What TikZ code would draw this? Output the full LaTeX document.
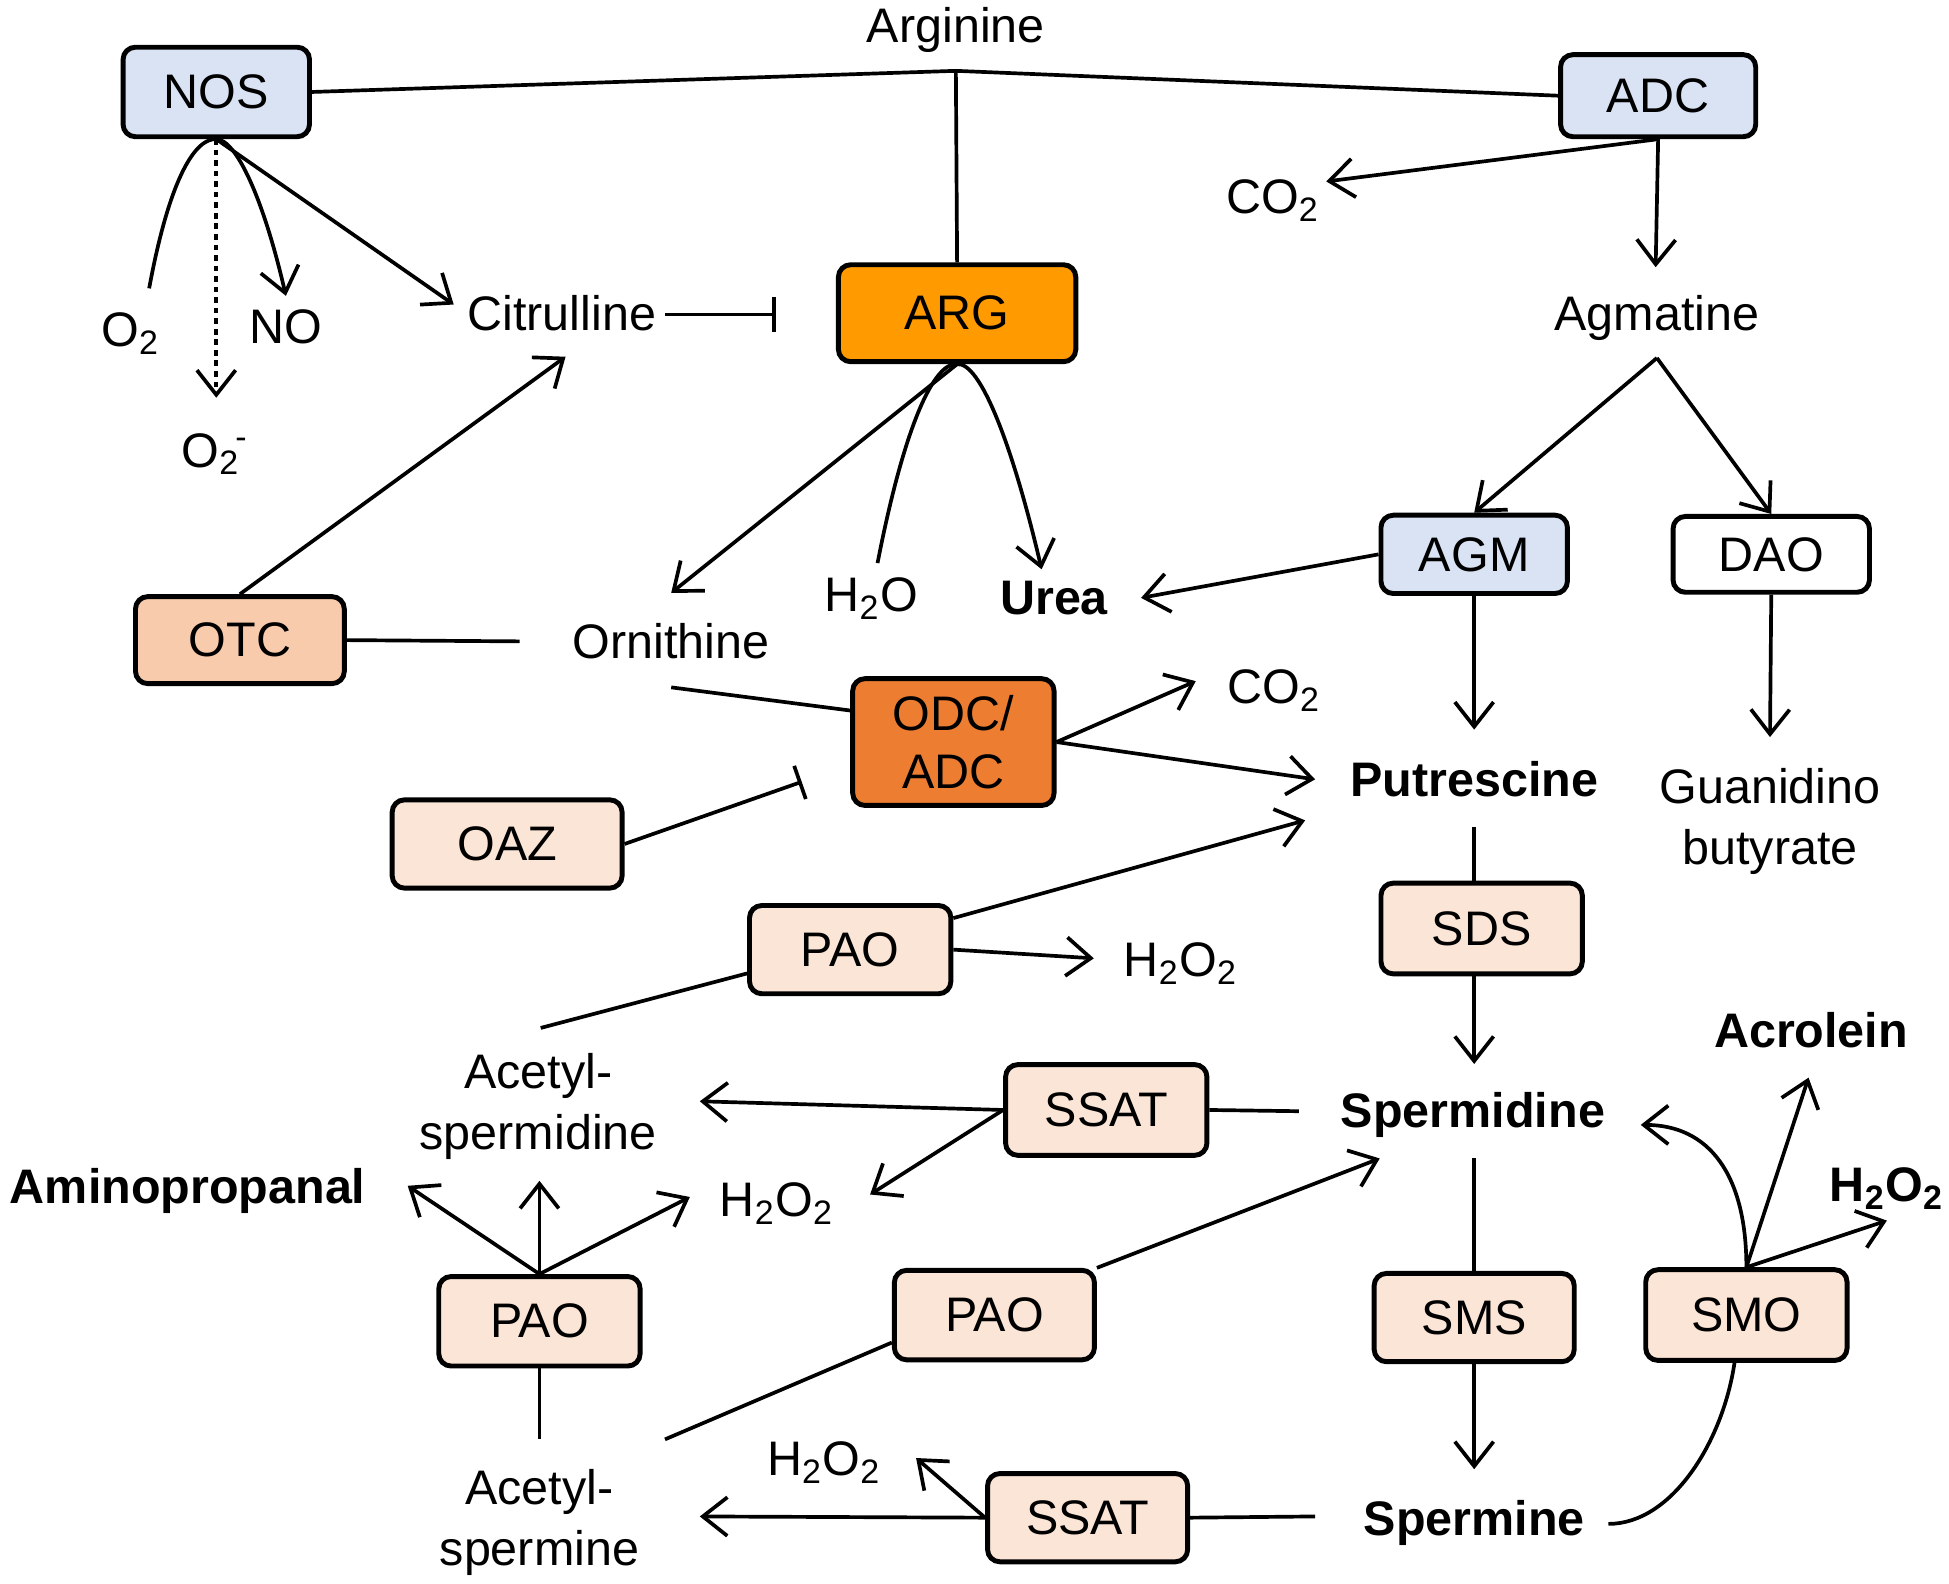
\documentclass[tikz,border=0pt]{standalone}
\usepackage{fontspec}
\setmainfont{Liberation Sans}
\usetikzlibrary{arrows.meta}
\definecolor{lblue}{HTML}{DAE3F3}
\definecolor{argc}{HTML}{FF9A00}
\definecolor{odcc}{HTML}{ED7D31}
\definecolor{otcc}{HTML}{F8CBAD}
\definecolor{pale}{HTML}{FBE5D6}
\def\pw{0.01243cm}
\tikzset{
  box/.style={draw, line width=1.4pt, rounded corners=3.5pt, inner sep=0pt, align=center, fill=pale},
  txt/.style={inner sep=0pt, anchor=base},
  txtc/.style={inner sep=0pt, align=center},
  ln/.style={line width=1.05pt},
  arr/.style={line width=1.05pt, -{Straight Barb[length=7pt,width=11pt,line width=1.05pt]}},
  inh/.style={line width=1.05pt, -{Bar[width=10pt,line width=1.05pt]}},
}
\begin{document}
\begin{tikzpicture}[x=0.01243cm,y=-0.01243cm, font=\fontsize{13.8}{16.8}\selectfont]
\useasboundingbox (0,0) rectangle (1568,1274);
% ---------- boxes
\node[box, fill=lblue, minimum width=150*\pw, minimum height=72*\pw] (nos) at (174,74) {NOS};
\node[box, fill=lblue, minimum width=157*\pw, minimum height=66*\pw] (adc) at (1334,77) {ADC};
\node[box, fill=argc, minimum width=191*\pw, minimum height=78*\pw] (arg) at (770,252) {ARG};
\node[box, fill=lblue, minimum width=150*\pw, minimum height=63*\pw] (agm) at (1186,446) {AGM};
\node[box, fill=white, minimum width=158*\pw, minimum height=61*\pw] (dao) at (1425,446) {DAO};
\node[box, fill=otcc, minimum width=168*\pw, minimum height=70*\pw] (otc) at (193,515) {OTC};
\node[box, fill=odcc, minimum width=162*\pw, minimum height=102*\pw, font=\fontsize{13.8}{16.5}\selectfont] (odc) at (767,597) {ODC/\\ADC};
\node[box, minimum width=185*\pw, minimum height=71*\pw] (oaz) at (408,679) {OAZ};
\node[box, minimum width=162*\pw, minimum height=71*\pw] (pao1) at (684,764) {PAO};
\node[box, minimum width=162*\pw, minimum height=73*\pw] (sds) at (1192,747) {SDS};
\node[box, minimum width=162*\pw, minimum height=73*\pw] (ssat1) at (890,893) {SSAT};
\node[box, minimum width=162*\pw, minimum height=72*\pw] (pao2) at (434,1063) {PAO};
\node[box, minimum width=161*\pw, minimum height=72*\pw] (pao3) at (800,1058) {PAO};
\node[box, minimum width=161*\pw, minimum height=71*\pw] (sms) at (1186,1060) {SMS};
\node[box, minimum width=162*\pw, minimum height=73*\pw] (smo) at (1405,1058) {SMO};
\node[box, minimum width=161*\pw, minimum height=71*\pw] (ssat2) at (875,1221) {SSAT};
% ---------- texts
\node[txt] (arginine) at (769,34) {Arginine};
\node[txt] (o2) at (105,279) {O\textsubscript{2}};
\node[txt] (no) at (230,276) {NO};
\node[txt] (o2m) at (173,376) {O\textsubscript{2}\kern-0.1em\textsuperscript{-}};
\node[txt] (citrulline) at (452,266) {Citrulline};
\node[txt] (h2o) at (701,492) {H\textsubscript{2}O};
\node[txt, font=\fontsize{13.8}{16.8}\selectfont\bfseries] (urea) at (848,494) {Urea};
\node[txt] (ornithine) at (540,530) {Ornithine};
\node[txt] (co2a) at (1024,172) {CO\textsubscript{2}};
\node[txt] (agmatine) at (1333,266) {Agmatine};
\node[txt] (co2b) at (1025,566) {CO\textsubscript{2}};
\node[txt, font=\fontsize{13.8}{16.8}\selectfont\bfseries] (putrescine) at (1186,641) {Putrescine};
\node[txtc, font=\fontsize{13.8}{17.2}\selectfont] (guan) at (1424,661) {Guanidino\\butyrate};
\node[txt] (h2oa) at (950,786) {H\textsubscript{2}O\textsubscript{2}};
\node[txtc, font=\fontsize{13.8}{17.4}\selectfont] (acspd) at (433,890) {Acetyl-\\spermidine};
\node[txt, font=\fontsize{13.8}{16.8}\selectfont\bfseries] (spermidine) at (1185,907) {Spermidine};
\node[txt, font=\fontsize{13.8}{16.8}\selectfont\bfseries] (aminopropanal) at (151,968) {Aminopropanal};
\node[txt] (h2ob) at (625,979) {H\textsubscript{2}O\textsubscript{2}};
\node[txt, font=\fontsize{13.8}{16.8}\selectfont\bfseries] (acrolein) at (1457,843) {Acrolein};
\node[txt, font=\fontsize{13.8}{16.8}\selectfont\bfseries] (h2oc) at (1518,967) {H\textsubscript{2}O\textsubscript{2}};
\node[txt, font=\fontsize{13.8}{16.8}\selectfont\bfseries] (spermine) at (1186,1235) {Spermine};
\node[txtc, font=\fontsize{13.8}{17.2}\selectfont] (acspm) at (434,1225) {Acetyl-\\spermine};
\node[txt] (h2od) at (663,1187) {H\textsubscript{2}O\textsubscript{2}};
% ---------- free ends
\coordinate (j) at (769,57);
\coordinate (o2top) at (120,232);
\coordinate (notip) at (230,238);
\coordinate (o2mtip) at (174,320);
\coordinate (cittip) at (365,245);
\coordinate (citR) at (535,253);
\coordinate (citbar) at (624,253);
\coordinate (orntip) at (540,477);
\coordinate (h2otop) at (706,453);
\coordinate (ureatip) at (838,458);
\coordinate (co2atip) at (1067,146);
\coordinate (agmtip) at (1332,215);
\coordinate (agmB) at (1333,288);
\coordinate (urea2tip) at (918,481);
\coordinate (puttip) at (1186,587);
\coordinate (guatip) at (1424,593);
\coordinate (cit2tip) at (455,287);
\coordinate (ornL) at (418,516);
\coordinate (ornB) at (540,553);
\coordinate (co2btip) at (962,548);
\coordinate (put2tip) at (1058,627);
\coordinate (oazbar) at (645,629);
\coordinate (put3tip) at (1050,660);
\coordinate (h2oatip) at (880,771);
\coordinate (acspdT) at (435,827);
\coordinate (spdL) at (1045,894);
\coordinate (acspdtip) at (563,886);
\coordinate (h2obtip) at (700,961);
\coordinate (putB) at (1186,665);
\coordinate (spdtip) at (1186,856);
\coordinate (spdB) at (1186,932);
\coordinate (spmtip) at (1186,1182);
\coordinate (spmR) at (1294,1226);
\coordinate (spdR) at (1320,905);
\coordinate (acrtip) at (1455,867);
\coordinate (h2octip) at (1518,982);
\coordinate (amtip) at (328,954);
\coordinate (acspd2tip) at (434,950);
\coordinate (h2ob2tip) at (555,963);
\coordinate (acspmT) at (434,1158);
\coordinate (spd2tip) at (1110,932);
\coordinate (acspmR) at (535,1158);
\coordinate (spmL) at (1058,1220);
\coordinate (acspmtip) at (563,1220);
\coordinate (h2odtip) at (737,1173);
% ---------- connectors
\draw[ln] (nos.east) -- (j) -- (adc.west);
\draw[ln] (j) -- (arg.north);
\draw[ln] (o2top) .. controls (137,140) and (158,111) .. (nos.south);
\draw[arr] (nos.south) .. controls (190,112) and (212,160) .. (notip);
\draw[arr, dash pattern=on 1.6pt off 1.4pt] (nos.south) -- (o2mtip);
\draw[arr] (nos.south) -- (cittip);
\draw[inh] (citR) -- (citbar);
\draw[arr] (arg.south) -- (orntip);
\draw[ln] (h2otop) .. controls (728,340) and (752,291) .. (arg.south);
\draw[arr] (arg.south) .. controls (789,291) and (815,360) .. (ureatip);
\draw[arr] (adc.south) -- (co2atip);
\draw[arr] (adc.south) -- (agmtip);
\draw[arr] (agmB) -- (agm.north);
\draw[arr] (agmB) -- (dao.north);
\draw[arr] (agm.west) -- (urea2tip);
\draw[arr] (agm.south) -- (puttip);
\draw[arr] (dao.south) -- (guatip);
\draw[arr] (otc.north) -- (cit2tip);
\draw[ln] (otc.east) -- (ornL);
\draw[ln] (ornB) -- (odc.163);
\draw[arr] (odc.east) -- (co2btip);
\draw[arr] (odc.east) -- (put2tip);
\draw[inh] (oaz.east) -- (oazbar);
\draw[arr] (pao1.17) -- (put3tip);
\draw[arr] (pao1.east) -- (h2oatip);
\draw[ln] (pao1.193) -- (acspdT);
\draw[ln] (ssat1.east) -- (spdL);
\draw[arr] (ssat1.west) -- (acspdtip);
\draw[arr] (ssat1.west) -- (h2obtip);
\draw[ln] (putB) -- (putB |- sds.north);
\draw[arr] (putB |- sds.south) -- (spdtip);
\draw[ln] (spdB) -- (sms.north);
\draw[arr] (sms.south) -- (spmtip);
\draw[ln] (spmR) .. controls (1345,1226) and (1386,1160) .. (smo.256);
\draw[arr] (smo.north) .. controls (1405,945) and (1375,905) .. (spdR);
\draw[arr] (smo.north) -- (acrtip);
\draw[arr] (smo.north) -- (h2octip);
\draw[arr] (pao2.north) -- (amtip);
\draw[arr] (pao2.north) -- (acspd2tip);
\draw[arr] (pao2.north) -- (h2ob2tip);
\draw[ln] (pao2.south) -- (acspmT);
\draw[arr] (pao3.north east) -- (spd2tip);
\draw[ln] (pao3.195) -- (acspmR);
\draw[ln] (ssat2.east) -- (spmL);
\draw[arr] (ssat2.west) -- (acspmtip);
\draw[arr] (ssat2.west) -- (h2odtip);
\end{tikzpicture}
\end{document}
